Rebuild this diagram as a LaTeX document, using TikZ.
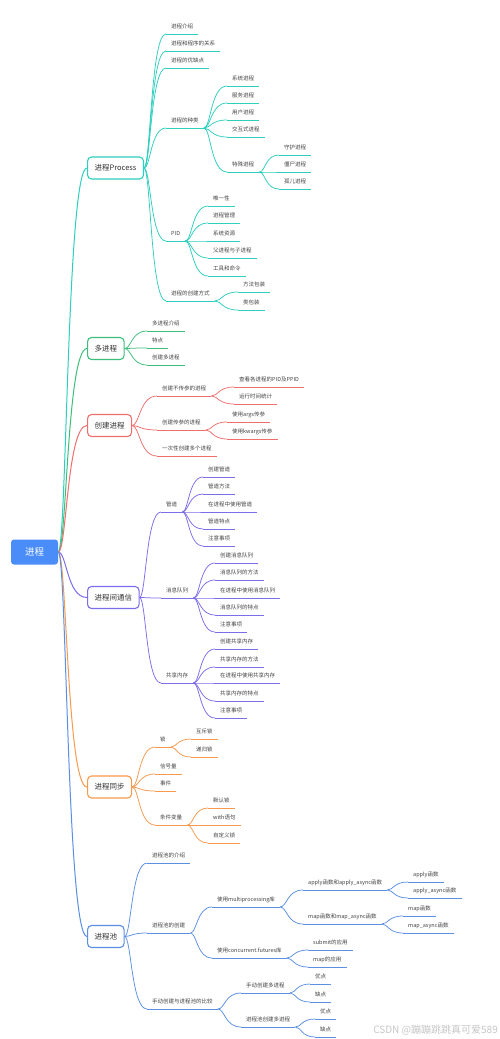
\documentclass[tikz,border=0pt]{standalone}
\usepackage{fontspec}
\setmainfont{Noto Sans CJK SC}
\usetikzlibrary{calc}
\definecolor{cP}{HTML}{2DCFBE}
\definecolor{cM}{HTML}{3CBF7A}
\definecolor{cC}{HTML}{EF6E6E}
\definecolor{cI}{HTML}{7C6EEA}
\definecolor{cS}{HTML}{F59A4E}
\definecolor{cL}{HTML}{5B8FE2}
\definecolor{rootc}{HTML}{4B8DF8}
\definecolor{txt}{HTML}{444444}
\tikzset{
  leaf/.style={font=\fontsize{5.5}{6}\selectfont, text=txt, inner xsep=5pt, inner ysep=3.8pt, text height=4.6pt, text depth=1.2pt},
  leafline/.style={line width=0.75pt},
  mainline/.style={line width=1pt},
  mainbox/.style={rounded corners=4pt, line width=1.1pt, fill=white, font=\fontsize{7.5}{8}\selectfont, text=black!80, inner xsep=7pt, minimum height=22pt, anchor=west},
  rootbox/.style={rounded corners=3pt, fill=rootc, text=white, font=\fontsize{9.5}{10}\selectfont, minimum width=47pt, minimum height=25pt},
}
\newcommand\conn[3]{\draw[#1] let \p1=(#2), \p2=(#3) in (\p1) .. controls ({\x1+0.3*(\x2-\x1)},\y1) and ({\x1+0.3*(\x2-\x1)},\y2) .. (\p2);}
% #1 colour, #2 name, #3 parent anchor, #4 text x, #5 line y, #6 text
\newcommand\lf[6]{%
  \node[leaf,anchor=south west] (#2) at (#4-5,#5) {#6};
  \draw[draw=#1,leafline] (#2.south west) -- (#2.south east);
  \conn{draw=#1,leafline}{#3}{#2.south west}}
\begin{document}
\begin{tikzpicture}[x=1pt,y=-1pt]
\useasboundingbox (0,0) rectangle (500,1039);
\fill[white] (0,0) rectangle (500,1039);
% root
\node[rootbox] (root) at (34.5,552) {进程};
% main topics
\node[mainbox,draw=cP] (P1) at (87,168) {进程Process};
\node[mainbox,draw=cM] (P2) at (87,348.5) {多进程};
\node[mainbox,draw=cC] (P3) at (87,425.5) {创建进程};
\node[mainbox,draw=cI] (P4) at (87,597.5) {进程间通信};
\node[mainbox,draw=cS] (P5) at (87,787) {进程同步};
\node[mainbox,draw=cL] (P6) at (87,936.5) {进程池};
\conn{draw=cP,mainline}{root.east}{P1.west}
\conn{draw=cM,mainline}{root.east}{P2.west}
\conn{draw=cC,mainline}{root.east}{P3.west}
\conn{draw=cI,mainline}{root.east}{P4.west}
\conn{draw=cS,mainline}{root.east}{P5.west}
\conn{draw=cL,mainline}{root.east}{P6.west}
% 进程Process
\lf{cP}{a1}{P1.east}{171}{34}{进程介绍}
\lf{cP}{a2}{P1.east}{171}{51}{进程和程序的关系}
\lf{cP}{a3}{P1.east}{171}{68}{进程的优缺点}
\lf{cP}{a4}{P1.east}{171}{128}{进程的种类}
\lf{cP}{a41}{a4.south east}{232}{86}{系统进程}
\lf{cP}{a42}{a4.south east}{232}{103}{服务进程}
\lf{cP}{a43}{a4.south east}{232}{120}{用户进程}
\lf{cP}{a44}{a4.south east}{232}{137}{交互式进程}
\lf{cP}{a45}{a4.south east}{232}{172}{特殊进程}
\lf{cP}{a451}{a45.south east}{284}{155}{守护进程}
\lf{cP}{a452}{a45.south east}{284}{172}{僵尸进程}
\lf{cP}{a453}{a45.south east}{284}{189}{孤儿进程}
\lf{cP}{a5}{P1.east}{171}{241}{PID}
\lf{cP}{a51}{a5.south east}{213}{206}{唯一性}
\lf{cP}{a52}{a5.south east}{213}{223}{进程管理}
\lf{cP}{a53}{a5.south east}{213}{241}{系统资源}
\lf{cP}{a54}{a5.south east}{213}{258}{父进程与子进程}
\lf{cP}{a55}{a5.south east}{213}{276}{工具和命令}
\lf{cP}{a6}{P1.east}{171}{301}{进程的创建方式}
\lf{cP}{a61}{a6.south east}{243}{292}{方法包装}
\lf{cP}{a62}{a6.south east}{243}{310}{类包装}
% 多进程
\lf{cM}{b1}{P2.east}{152}{331}{多进程介绍}
\lf{cM}{b2}{P2.east}{152}{348}{特点}
\lf{cM}{b3}{P2.east}{152}{365}{创建多进程}
% 创建进程
\lf{cC}{c1}{P3.east}{162}{396}{创建不传参的进程}
\lf{cC}{c11}{c1.south east}{239}{387}{查看各进程的PID及PPID}
\lf{cC}{c12}{c1.south east}{239}{404}{运行时间统计}
\lf{cC}{c2}{P3.east}{162}{430}{创建传参的进程}
\lf{cC}{c21}{c2.south east}{232}{422}{使用args传参}
\lf{cC}{c22}{c2.south east}{232}{439}{使用kwargs传参}
\lf{cC}{c3}{P3.east}{162}{456}{一次性创建多个进程}
% 进程间通信
\lf{cI}{d1}{P4.east}{166}{512}{管道}
\lf{cI}{d11}{d1.south east}{208}{477}{创建管道}
\lf{cI}{d12}{d1.south east}{208}{494}{管道方法}
\lf{cI}{d13}{d1.south east}{208}{512}{在进程中使用管道}
\lf{cI}{d14}{d1.south east}{208}{529}{管道特点}
\lf{cI}{d15}{d1.south east}{208}{546}{注意事项}
\lf{cI}{d2}{P4.east}{166}{598}{消息队列}
\lf{cI}{d21}{d2.south east}{220}{563}{创建消息队列}
\lf{cI}{d22}{d2.south east}{220}{580}{消息队列的方法}
\lf{cI}{d23}{d2.south east}{220}{598}{在进程中使用消息队列}
\lf{cI}{d24}{d2.south east}{220}{615}{消息队列的特点}
\lf{cI}{d25}{d2.south east}{220}{632}{注意事项}
\lf{cI}{d3}{P4.east}{166}{683}{共享内存}
\lf{cI}{d31}{d3.south east}{220}{649}{创建共享内存}
\lf{cI}{d32}{d3.south east}{220}{667}{共享内存的方法}
\lf{cI}{d33}{d3.south east}{220}{683}{在进程中使用共享内存}
\lf{cI}{d34}{d3.south east}{220}{701}{共享内存的特点}
\lf{cI}{d35}{d3.south east}{220}{718}{注意事项}
% 进程同步
\lf{cS}{e1}{P5.east}{160}{747}{锁}
\lf{cS}{e11}{e1.south east}{196}{739}{互斥锁}
\lf{cS}{e12}{e1.south east}{196}{757}{递归锁}
\lf{cS}{e2}{P5.east}{160}{774}{信号量}
\lf{cS}{e3}{P5.east}{160}{791}{事件}
\lf{cS}{e4}{P5.east}{160}{825}{条件变量}
\lf{cS}{e41}{e4.south east}{213}{808}{默认锁}
\lf{cS}{e42}{e4.south east}{213}{825}{with语句}
\lf{cS}{e43}{e4.south east}{213}{843}{自定义锁}
% 进程池
\lf{cL}{f1}{P6.east}{152}{863}{进程池的介绍}
\lf{cL}{f2}{P6.east}{152}{933}{进程池的创建}
\lf{cL}{f21}{f2.south east}{217}{907}{使用multiprocessing库}
\lf{cL}{f211}{f21.south east}{308}{890}{apply函数和apply\_async函数}
\lf{cL}{f2111}{f211.south east}{413}{882}{apply函数}
\lf{cL}{f2112}{f211.south east}{413}{898}{apply\_async函数}
\lf{cL}{f212}{f21.south east}{308}{924}{map函数和map\_async函数}
\lf{cL}{f2121}{f212.south east}{408}{916}{map函数}
\lf{cL}{f2122}{f212.south east}{408}{933}{map\_async函数}
\lf{cL}{f22}{f2.south east}{217}{958}{使用concurrent.futures库}
\lf{cL}{f221}{f22.south east}{313}{950}{submit的应用}
\lf{cL}{f222}{f22.south east}{313}{967}{map的应用}
\lf{cL}{f3}{P6.east}{152}{1009}{手动创建与进程池的比较}
\lf{cL}{f31}{f3.south east}{246}{993}{手动创建多进程}
\lf{cL}{f311}{f31.south east}{315}{984}{优点}
\lf{cL}{f312}{f31.south east}{315}{1002}{缺点}
\lf{cL}{f32}{f3.south east}{246}{1027}{进程池创建多进程}
\lf{cL}{f321}{f32.south east}{320}{1019}{优点}
\lf{cL}{f322}{f32.south east}{320}{1037}{缺点}
% watermark
\node[anchor=east, text=black!22, font=\fontsize{10}{11}\selectfont, inner sep=0pt] (wm) at (498,1030) {CSDN @蹦蹦跳跳真可爱589};
\end{tikzpicture}
\end{document}
